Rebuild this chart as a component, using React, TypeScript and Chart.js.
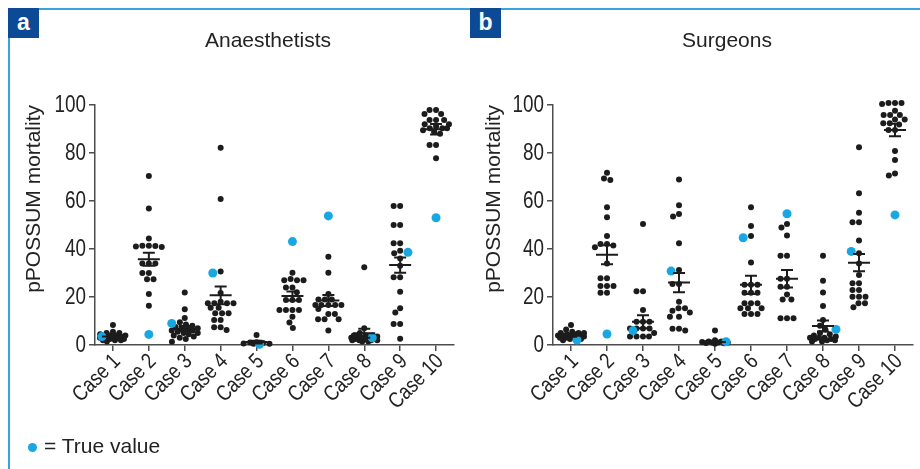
import React, { useEffect, useRef } from "react";
import { Chart, registerables } from "chart.js";
Chart.register(...registerables);

const categories = ["Case 1", "Case 2", "Case 3", "Case 4", "Case 5", "Case 6", "Case 7", "Case 8", "Case 9", "Case 10"];
const yTickValues = [0, 20, 40, 60, 80, 100];

// Anaesthetists — individual estimates per case
const anaesCase1 = [8.3, 5.5, 5, 5, 4.5, 4, 4, 3.5, 3.5, 3, 3, 3, 2.5, 2.5, 2, 2, 2, 1.5, 3, 4];
const anaesCase2 = [70.4, 56.9, 44.4, 41.4, 41.4, 41.2, 41, 40.8, 34, 34, 34, 30, 30, 27.4, 27.4, 21.3, 16.4];
const anaesCase3 = [21.9, 14.9, 11.3, 9.5, 8.5, 8, 7.5, 7, 7, 6.5, 6, 6, 5.5, 5, 5, 4.5, 4, 3.5, 3, 2.5, 1.4];
const anaesCase4 = [82.2, 60.8, 30.6, 21.7, 18, 17.4, 17.4, 17.4, 17.4, 15.5, 15.5, 13.2, 13.2, 13.2, 10.4, 10.4, 7.4, 7.4, 6.3];
const anaesCase5 = [4.2, 1.1, 1.0, 0.8, 0.6, 0.5, 0.5];
const anaesCase6 = [30.1, 27.5, 27, 27, 27, 24, 24, 22, 18.8, 18.8, 18.8, 14.6, 14.6, 14.6, 14.6, 11.8, 9.4, 7.1];
const anaesCase7 = [36.8, 30.1, 21.3, 19, 19, 19, 16.7, 16.7, 16.7, 16.7, 16.7, 15, 12.9, 12.9, 10.7, 10.7, 10.7, 6];
const anaesCase8 = [32.4, 7, 5, 4, 4, 3.5, 3, 3, 2.5, 2.5, 2, 2, 2, 1.5, 1.5, 3, 2.5, 2, 3.5, 4];
const anaesCase9 = [57.9, 57.9, 50, 50, 42.4, 42.4, 39.3, 38.2, 36, 33, 28.2, 28.2, 22.2, 15.3, 13.5, 8.75, 8.75, 2.6];
const anaesCase10 = [97.9, 97.9, 96.2, 96.2, 93.8, 93.8, 93.8, 92, 92, 91, 90.3, 90.3, 90.3, 89.5, 88.9, 88, 83.3, 83.3, 77.8];
const anaesTrue = [3.5, 4.4, 9, 30, 0.3, 43.1, 53.8, 3, 38.6, 53];
const anaesMean = [3.5, 35.7, 6.8, 20.7, 1.2, 20.4, 18.5, 4.9, 33.3, 89.9];
const anaesSem = [0.5, 2.7, 1.1, 3.7, 0.6, 1.9, 2.3, 1.9, 3.2, 2.2];

// Surgeons — individual estimates per case
const surgCase1 = [8.3, 6.5, 5.5, 5, 5, 4.5, 4.5, 4, 4, 4, 3.5, 3.5, 3, 3, 3, 2.5, 2.5, 2, 4, 5];
const surgCase2 = [71.8, 69.4, 68.8, 57.4, 53.2, 45.4, 42.1, 42.1, 41.5, 40.7, 34, 27.8, 27.8, 24.6, 24.6, 24.6, 21.8, 21.8];
const surgCase3 = [50.4, 22.4, 22.4, 14.6, 9.7, 9.7, 9.7, 6.9, 6.9, 6.9, 6.9, 5, 3.5, 3.5, 3.5, 3.5];
const surgCase4 = [69, 58.2, 54.6, 53.5, 42.4, 31.3, 25.4, 25.4, 18, 15.3, 15.3, 14.3, 13.5, 11.8, 11.8, 6.8, 6.8, 6];
const surgCase5 = [6, 2, 1.5, 1.2, 1, 1, 0.8, 0.7, 0.5, 1.5, 1];
const surgCase6 = [57.4, 49.6, 45.4, 34.4, 25.1, 25.1, 25.1, 21.8, 21.8, 21.8, 17.4, 17.4, 17.4, 15.3, 15.3, 15.3, 12.9, 12.9, 12.9];
const surgCase7 = [50.4, 49, 45.6, 37.2, 37.2, 27.6, 27.6, 24.3, 24.3, 21, 19, 19, 11.1, 11.1, 11.1];
const surgCase8 = [37.2, 26.8, 21.9, 16.3, 10.4, 8, 6.5, 5, 4.5, 4, 3.5, 3, 3, 2.5, 2, 2, 1.5, 1.5, 2.5, 3];
const surgCase9 = [82.4, 63.2, 55.1, 51.1, 51.1, 43.5, 38.2, 34, 29.2, 25.7, 25.7, 22.9, 22.9, 20.1, 20.1, 20.1, 17.4, 17.4, 15.7];
const surgCase10 = [100.8, 100.8, 100.8, 100.4, 97.6, 95.8, 95.8, 95.8, 94, 94, 92.4, 92.4, 91.9, 89.6, 89.6, 80.8, 77.1, 71.5, 70.6];
const surgTrue = [2.1, 4.6, 6, 30.8, 1.4, 44.7, 54.7, 6.5, 39, 54.2];
const surgMean = [3.9, 37.6, 9.7, 26, 1.3, 25.1, 27.6, 7.9, 34.3, 89.6];
const surgSem = [0.5, 4, 2.7, 4, 0.4, 3.8, 3.6, 2.3, 3.6, 2.6];

const anaesGroups = [anaesCase1, anaesCase2, anaesCase3, anaesCase4, anaesCase5, anaesCase6, anaesCase7, anaesCase8, anaesCase9, anaesCase10];
const surgGroups = [surgCase1, surgCase2, surgCase3, surgCase4, surgCase5, surgCase6, surgCase7, surgCase8, surgCase9, surgCase10];

const BLACK = "#1c1c1c";
const BLUE = "#19a7e2";
const AXIS = "#4d4d4d";
const TEXT = "#232323";
const FRAME = "#3aa3dc";
const BOX = "#0c4a96";
const REGULAR = '"Liberation Sans", Arial, Helvetica, sans-serif';
const CONDENSE = 0.82;

const DOT_R = 3;
const TRUE_R = 4.5;
const MAX_OFF = 13;

// deterministic beeswarm in pixel space: returns x-offsets (px)
function swarm(ys: number[], placed: { x: number; y: number }[], D: number, maxOff: number): number[] {
  const order = ys.map((_, i) => i).sort((a, b) => ys[a] - ys[b]);
  const out = new Array(ys.length).fill(0);
  for (const i of order) {
    const y = ys[i];
    const cands: number[] = [0];
    for (const p of placed) {
      const dy = Math.abs(p.y - y);
      if (dy < D) {
        const dx = Math.sqrt(D * D - dy * dy);
        cands.push(p.x - dx, p.x + dx);
      }
    }
    cands.sort((a, b) => Math.abs(a) - Math.abs(b) || a - b);
    let best: number | null = null;
    for (const c of cands) {
      if (Math.abs(c) > maxOff) break;
      if (placed.every((p) => (p.x - c) ** 2 + (p.y - y) ** 2 >= D * D - 0.01)) {
        best = c;
        break;
      }
    }
    if (best === null) {
      let bestScore = -1;
      for (let c = -maxOff; c <= maxOff; c += 1) {
        let m = Infinity;
        for (const p of placed) m = Math.min(m, (p.x - c) ** 2 + (p.y - y) ** 2);
        if (m > bestScore + 0.01) {
          bestScore = m;
          best = c;
        }
      }
    }
    out[i] = best as number;
    placed.push({ x: best as number, y });
  }
  return out;
}

type PanelProps = {
  groups: number[][];
  truth: number[];
  means: number[];
  sems: number[];
  padRight: number;
  yWidth: number;
  left: number;
};

function Panel({ groups, truth, means, sems, padRight, yWidth, left }: PanelProps) {
  const ref = useRef<HTMLCanvasElement>(null);
  useEffect(() => {
    const blackData = groups.flatMap((g, i) => g.map((v) => ({ x: i + 1, y: v })));
    const blueData = truth.map((v, i) => ({ x: i + 1, y: v }));

    const errorBars = {
      id: "errorBars",
      afterDatasetsDraw(chart: any) {
        const { ctx } = chart;
        const xs = chart.scales.x;
        const ysc = chart.scales.y;
        ctx.save();
        ctx.strokeStyle = BLACK;
        ctx.lineWidth = 2;
        means.forEach((m, i) => {
          const x = xs.getPixelForValue(i + 1);
          const ym = ysc.getPixelForValue(m);
          const yh = ysc.getPixelForValue(m + sems[i]);
          const yl = ysc.getPixelForValue(Math.max(0, m - sems[i]));
          ctx.beginPath();
          ctx.moveTo(x - 11, ym);
          ctx.lineTo(x + 11, ym);
          ctx.moveTo(x, yh);
          ctx.lineTo(x, yl);
          ctx.moveTo(x - 6, yh);
          ctx.lineTo(x + 6, yh);
          ctx.moveTo(x - 6, yl);
          ctx.lineTo(x + 6, yl);
          ctx.stroke();
        });
        ctx.restore();
      },
    };

    // condensed tick labels (text drawn on the canvas, horizontally narrowed)
    const condensedLabels = {
      id: "condensedLabels",
      afterDraw(chart: any) {
        const { ctx, chartArea } = chart;
        const xs = chart.scales.x;
        const ysc = chart.scales.y;
        ctx.save();
        ctx.fillStyle = TEXT;
        ctx.textAlign = "right";
        ctx.textBaseline = "middle";
        ctx.font = `23px ${REGULAR}`;
        yTickValues.forEach((v) => {
          ctx.save();
          ctx.translate(chartArea.left - 9, ysc.getPixelForValue(v) + 1);
          ctx.scale(CONDENSE, 1);
          ctx.fillText(String(v), 0, 0);
          ctx.restore();
        });
        ctx.font = `22px ${REGULAR}`;
        categories.forEach((c, i) => {
          ctx.save();
          ctx.translate(xs.getPixelForValue(i + 1) + 4, chartArea.bottom + 13);
          ctx.rotate(-Math.PI / 4);
          ctx.scale(CONDENSE, 1);
          ctx.fillText(c, 0, 0);
          ctx.restore();
        });
        ctx.restore();
      },
    };

    const axisGrid = { drawOnChartArea: false, drawTicks: true, tickLength: 6, color: AXIS, lineWidth: 1.5 };
    const axisBorder = { display: true, color: AXIS, width: 1.5 };

    const chart = new Chart(ref.current as HTMLCanvasElement, {
      type: "scatter",
      data: {
        datasets: [
          { data: blueData, backgroundColor: BLUE, borderWidth: 0, pointRadius: TRUE_R, clip: false } as any,
          { data: blackData, backgroundColor: BLACK, borderWidth: 0, pointRadius: DOT_R, clip: false } as any,
        ],
      },
      options: {
        responsive: false,
        animation: false,
        events: [],
        layout: { padding: { left: 22, top: 105, right: padRight, bottom: 0 } },
        plugins: { legend: { display: false }, tooltip: { enabled: false }, title: { display: false } },
        scales: {
          x: {
            type: "linear",
            min: 0.5,
            max: 10.5,
            afterBuildTicks: (s: any) => {
              s.ticks = categories.map((_, i) => ({ value: i + 1 }));
            },
            afterFit: (s: any) => {
              s.height = 124;
            },
            ticks: { display: false, autoSkip: false },
            grid: axisGrid,
            border: axisBorder,
          },
          y: {
            type: "linear",
            min: 0,
            max: 100,
            afterBuildTicks: (s: any) => {
              s.ticks = yTickValues.map((v) => ({ value: v }));
            },
            afterFit: (s: any) => {
              s.width = yWidth;
            },
            ticks: { display: false },
            grid: axisGrid,
            border: axisBorder,
            title: {
              display: true,
              text: "pPOSSUM mortality",
              align: "end",
              color: TEXT,
              font: { family: REGULAR, size: 21 },
              padding: { top: 0, bottom: 0 },
            },
          },
        },
      } as any,
      plugins: [errorBars, condensedLabels],
    });

    // spread the dots of each case horizontally (beeswarm) using the chart's scales
    const xs = chart.scales.x;
    const ysc = chart.scales.y;
    const pxPerUnit = xs.getPixelForValue(2) - xs.getPixelForValue(1);
    const newBlack: { x: number; y: number }[] = [];
    const newBlue: { x: number; y: number }[] = [];
    groups.forEach((g, i) => {
      const placed: { x: number; y: number }[] = [];
      const pys = g.map((v) => ysc.getPixelForValue(v));
      const offs = swarm(pys, placed, DOT_R * 2 + 0.5, MAX_OFF);
      g.forEach((v, k) => newBlack.push({ x: i + 1 + offs[k] / pxPerUnit, y: v }));
      const bOff = swarm([ysc.getPixelForValue(truth[i])], placed, DOT_R + TRUE_R + 0.5, MAX_OFF);
      newBlue.push({ x: i + 1 + bOff[0] / pxPerUnit, y: truth[i] });
    });
    chart.data.datasets[0].data = newBlue as any;
    chart.data.datasets[1].data = newBlack as any;
    chart.update("none");

    return () => chart.destroy();
  }, []);
  return (
    <canvas
      ref={ref}
      width={460}
      height={469}
      style={{ position: "absolute", left, top: 0, width: 460, height: 469 }}
    />
  );
}

export default function App() {
  const textBase: React.CSSProperties = {
    position: "absolute",
    fontFamily: REGULAR,
    fontSize: 21,
    lineHeight: "21px",
    color: TEXT,
    whiteSpace: "nowrap",
  };
  const boxStyle = (x: number): React.CSSProperties => ({
    position: "absolute",
    left: x,
    top: 8,
    width: 31,
    height: 30,
    background: BOX,
    color: "#fff",
    fontFamily: REGULAR,
    fontWeight: "bold",
    fontSize: 23,
    lineHeight: "28px",
    textAlign: "center",
  });
  return (
    <div style={{ position: "absolute", left: 0, top: 0, width: 920, height: 469, background: "#fff", overflow: "hidden" }}>
      <div style={{ position: "absolute", left: 8, top: 8, width: 912, height: 2, background: FRAME }} />
      <div style={{ position: "absolute", left: 8, top: 8, width: 2, height: 461, background: FRAME }} />
      <Panel groups={anaesGroups} truth={anaesTrue} means={anaesMean} sems={anaesSem} padRight={6} yWidth={73} left={0} />
      <Panel groups={surgGroups} truth={surgTrue} means={surgMean} sems={surgSem} padRight={7} yWidth={71} left={460} />
      <div style={boxStyle(8)}>a</div>
      <div style={boxStyle(470)}>b</div>
      <div style={{ ...textBase, left: 168, width: 200, top: 29, textAlign: "center" }}>Anaesthetists</div>
      <div style={{ ...textBase, left: 627, width: 200, top: 29, textAlign: "center" }}>Surgeons</div>
      <div
        style={{
          position: "absolute",
          left: 27.5,
          top: 442.5,
          width: 9,
          height: 9,
          borderRadius: "50%",
          background: BLUE,
        }}
      />
      <div style={{ ...textBase, left: 44, top: 435 }}>= True value</div>
    </div>
  );
}
